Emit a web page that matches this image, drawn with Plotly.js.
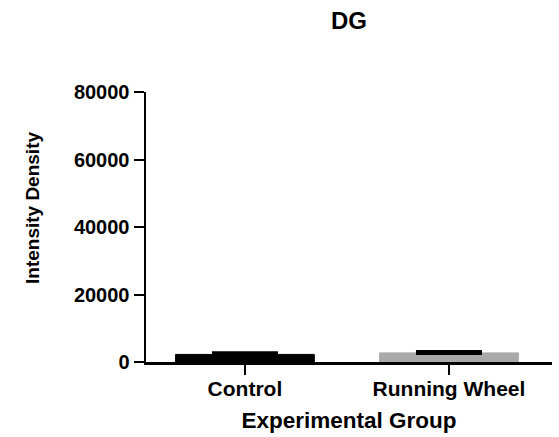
<!DOCTYPE html>
<html>
<head>
<meta charset="utf-8">
<script src="https://cdn.plot.ly/plotly-3.0.1.min.js"></script>
<style>html,body{margin:0;padding:0;background:#fff;}#chart{width:559px;height:437px;}</style>
</head>
<body>
<div id="chart"></div>
<script>
const categories = ["Control", "Running Wheel"];
const means = [2250, 2700];
const errorsUp = [350, 300];
const barColors = ["#000000", "#a9a9a9"];
const yTickVals = [0, 20000, 40000, 60000, 80000];

const FONT = "Liberation Sans, Arial, sans-serif";

const trace = {
  type: "bar",
  x: categories,
  y: means,
  width: 0.68,
  marker: { color: barColors, line: { color: barColors, width: 1 } },
  error_y: {
    type: "data",
    symmetric: false,
    array: errorsUp,
    arrayminus: [0, 0],
    color: "#000000",
    thickness: 4,
    width: 33
  },
  hoverinfo: "none"
};

const layout = {
  width: 559,
  height: 437,
  margin: { l: 146, r: 7, t: 92, b: 75 },
  paper_bgcolor: "#ffffff",
  plot_bgcolor: "#ffffff",
  showlegend: false,
  font: { family: FONT, color: "#000000" },
  title: {
    text: "<b>DG</b>",
    font: { family: FONT, size: 24, color: "#000" },
    x: 0.5, xref: "paper", xanchor: "center",
    y: 1 - 21 / 437, yref: "container", yanchor: "middle"
  },
  xaxis: {
    type: "category",
    range: [-0.485, 1.505],
    showline: true, linecolor: "#000", linewidth: 2.5,
    ticks: "outside", ticklen: 10, tickwidth: 2, tickcolor: "#000",
    ticklabelstandoff: -4,
    tickfont: { family: FONT, size: 21, color: "#000", weight: "bold" },
    showgrid: false, zeroline: false,
    title: { text: "<b>Experimental Group</b>", font: { family: FONT, size: 22.5, color: "#000" }, standoff: 14 }
  },
  yaxis: {
    range: [0, 80000],
    tickvals: yTickVals,
    tickformat: "d",
    showline: true, linecolor: "#000", linewidth: 2.5,
    ticks: "outside", ticklen: 10, tickwidth: 2, tickcolor: "#000",
    tickfont: { family: FONT, size: 20, color: "#000", weight: "bold" },
    showgrid: false, zeroline: false
  },
  annotations: [{
    text: "<b>Intensity Density</b>",
    textangle: -90,
    font: { family: FONT, size: 19, color: "#000" },
    xref: "paper", yref: "paper",
    x: (32 - 146) / 406, y: (362 - 208) / 270,
    xanchor: "center", yanchor: "middle",
    showarrow: false
  }]
};

Plotly.newPlot("chart", [trace], layout, { displayModeBar: false, staticPlot: true });
</script>
</body>
</html>
